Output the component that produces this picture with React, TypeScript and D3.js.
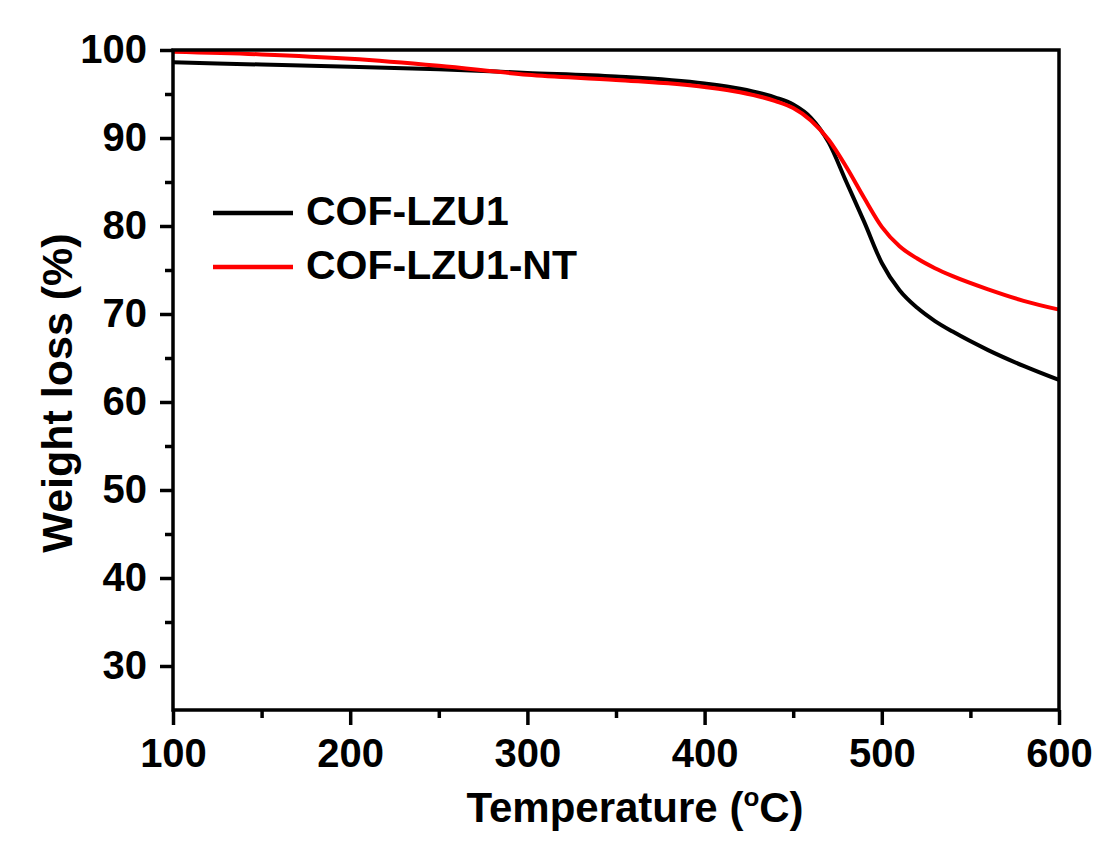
import React, { useEffect, useRef } from 'react';
import * as d3 from 'd3';

// temperatures (°C) at which the curves were read
const temps = [100, 150, 200, 250, 300, 350, 400, 420, 440, 450, 460, 470, 480, 490, 500, 510, 520, 530, 540, 560, 580, 600];
// weight remaining (%)
const lzu1 = [98.6, 98.35, 98.1, 97.8, 97.4, 97.0, 96.2, 95.6, 94.6, 93.8, 92.3, 89.5, 85.0, 80.5, 75.8, 72.7, 70.7, 69.2, 68.0, 65.9, 64.1, 62.5];
const lzu1NT = [99.8, 99.5, 99.0, 98.2, 97.2, 96.6, 95.8, 95.2, 94.2, 93.4, 92.0, 89.8, 86.7, 83.2, 79.9, 77.7, 76.3, 75.2, 74.3, 72.8, 71.5, 70.5];

const seriesNames = ['COF-LZU1', 'COF-LZU1-NT'];
const seriesColors = ['#000000', '#ff0000'];

const xMajor = [100, 200, 300, 400, 500, 600];
const xMinor = [150, 250, 350, 450, 550];
const yMajor = [30, 40, 50, 60, 70, 80, 90, 100];
const yMinor = [35, 45, 55, 65, 75, 85, 95];

const W = 1113;
const H = 843;
const margin = { top: 50, right: 54, bottom: 133, left: 173 };
const FONT = '"Liberation Sans", Arial, sans-serif';

const App: React.FC = () => {
  const svgRef = useRef<SVGSVGElement>(null);

  useEffect(() => {
    if (!svgRef.current) return;
    const svg = d3.select(svgRef.current);
    svg.selectAll('*').remove();

    const iw = W - margin.left - margin.right;
    const ih = H - margin.top - margin.bottom;

    const x = d3.scaleLinear().domain([100, 600]).range([0, iw]);
    const y = d3.scaleLinear().domain([25, 100]).range([ih, 0]);

    svg.append('rect').attr('width', W).attr('height', H).attr('fill', '#ffffff');

    const g = svg.append('g').attr('transform', `translate(${margin.left},${margin.top})`);

    // curves
    const line = d3.line<number>()
      .x((_, i) => x(temps[i]))
      .y(d => y(d))
      .curve(d3.curveMonotoneX);

    [lzu1, lzu1NT].forEach((vals, k) => {
      g.append('path')
        .datum(vals)
        .attr('d', line)
        .attr('fill', 'none')
        .attr('stroke', seriesColors[k])
        .attr('stroke-width', 4)
        .attr('stroke-linejoin', 'round');
    });

    // frame
    g.append('rect')
      .attr('width', iw)
      .attr('height', ih)
      .attr('fill', 'none')
      .attr('stroke', '#000')
      .attr('stroke-width', 3.5);

    const styleAxis = (sel: d3.Selection<SVGGElement, unknown, null, undefined>) => {
      sel.select('.domain').remove();
      sel.selectAll('line').attr('stroke', '#000').attr('stroke-width', 3.5);
      sel.selectAll('text')
        .attr('fill', '#000')
        .attr('font-family', FONT)
        .attr('font-weight', 'bold')
        .attr('font-size', 40);
    };

    // x axis
    g.append('g')
      .attr('transform', `translate(0,${ih})`)
      .call(d3.axisBottom(x).tickValues(xMajor).tickSize(15).tickPadding(14).tickFormat(d3.format('d')))
      .call(styleAxis);
    g.append('g')
      .attr('transform', `translate(0,${ih})`)
      .call(d3.axisBottom(x).tickValues(xMinor).tickSize(8).tickFormat(() => ''))
      .call(styleAxis);

    // y axis
    g.append('g')
      .call(d3.axisLeft(y).tickValues(yMajor).tickSize(13).tickPadding(13).tickFormat(d3.format('d')))
      .call(styleAxis);
    g.append('g')
      .call(d3.axisLeft(y).tickValues(yMinor).tickSize(8).tickFormat(() => ''))
      .call(styleAxis);

    // axis titles
    const xt = svg.append('text')
      .attr('x', 635)
      .attr('y', 822)
      .attr('text-anchor', 'middle')
      .attr('font-family', FONT)
      .attr('font-weight', 'bold')
      .attr('font-size', 42)
      .attr('fill', '#000');
    xt.append('tspan').text('Temperature (');
    xt.append('tspan').attr('font-size', 26).attr('dy', -16).text('o');
    xt.append('tspan').attr('dy', 16).text('C)');

    svg.append('text')
      .attr('transform', 'translate(72,393) rotate(-90)')
      .attr('text-anchor', 'middle')
      .attr('font-family', FONT)
      .attr('font-weight', 'bold')
      .attr('font-size', 43)
      .attr('fill', '#000')
      .text('Weight loss (%)');

    // legend
    const legend = svg.append('g').attr('transform', 'translate(213,213)');
    seriesNames.forEach((name, k) => {
      const row = legend.append('g').attr('transform', `translate(0,${k * 54})`);
      row.append('line')
        .attr('x1', 0).attr('x2', 80)
        .attr('stroke', seriesColors[k])
        .attr('stroke-width', 4.5);
      row.append('text')
        .attr('x', 93)
        .attr('y', 12)
        .attr('font-family', FONT)
        .attr('font-weight', 'bold')
        .attr('font-size', 41)
        .attr('fill', '#000')
        .text(name);
    });
  }, []);

  return (
    <svg
      ref={svgRef}
      width={W}
      height={H}
      style={{ position: 'absolute', left: 0, top: 0, display: 'block' }}
    />
  );
};

export default App;
